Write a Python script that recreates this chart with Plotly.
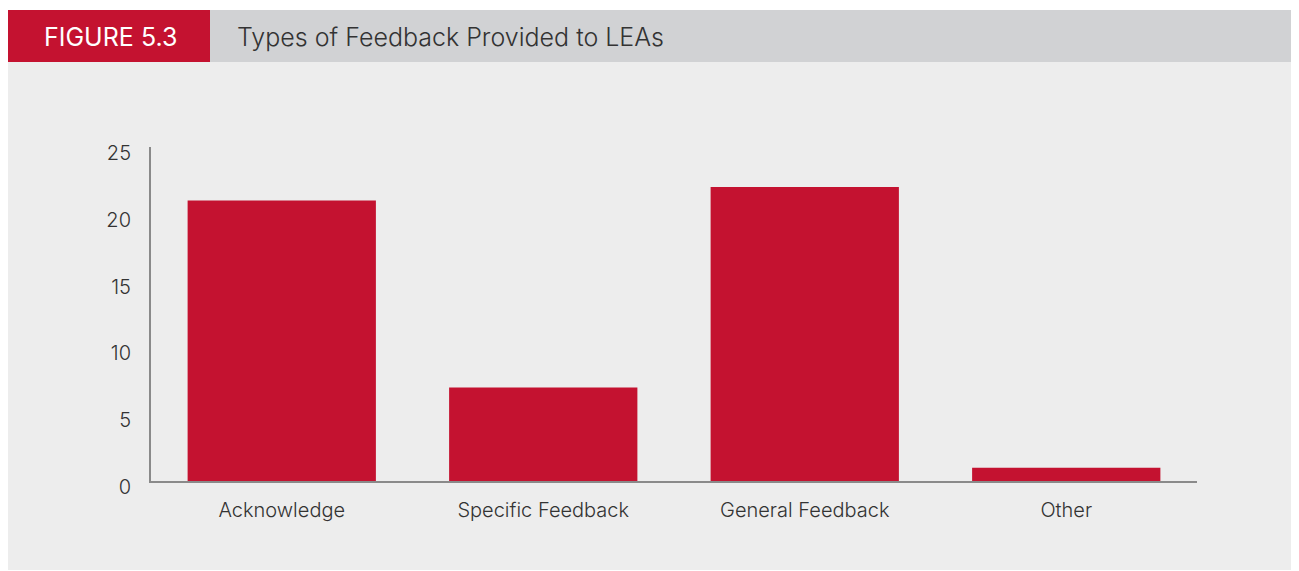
import plotly.graph_objects as go

categories = ["Acknowledge", "Specific Feedback", "General Feedback", "Other"]
values = [21, 7, 22, 1]
y_ticks = [0, 5, 10, 15, 20, 25]

W, H = 1299, 571
OFF = 8  # page body margin compensation
RED = "#c41230"
HEADER_GREY = "#d1d2d4"
PANEL = "#ededed"
AXIS = "#8a8a8a"
TEXT = "#333333"
FONT = "Inter"

fig = go.Figure()
fig.add_trace(go.Bar(
    x=categories, y=values, marker=dict(color=RED, line=dict(width=0)),
    width=0.72, hoverinfo="x+y"))

def px(x):
    return (x - OFF) / W

def py(y):
    return 1 - (y - OFF) / H

shapes = [
    dict(type="rect", xref="paper", yref="paper", x0=px(6), x1=px(1310), y0=py(570), y1=py(62),
         fillcolor=PANEL, line=dict(width=0), layer="below"),
    dict(type="rect", xref="paper", yref="paper", x0=px(6), x1=px(210), y0=py(62), y1=py(10),
         fillcolor=RED, line=dict(width=0), layer="below"),
    dict(type="rect", xref="paper", yref="paper", x0=px(210), x1=px(1310), y0=py(62), y1=py(10),
         fillcolor=HEADER_GREY, line=dict(width=0), layer="below"),
]

annotations = [
    dict(text="FIGURE 5.3", xref="paper", yref="paper", x=px(110), y=py(37),
         xanchor="center", yanchor="middle", showarrow=False,
         font=dict(family=FONT, size=25, color="white", weight=400)),
    dict(text="Types of Feedback Provided to LEAs", xref="paper", yref="paper", x=px(235), y=py(37),
         xanchor="left", yanchor="middle", showarrow=False,
         font=dict(family=FONT, size=25, color=TEXT, weight=300)),
]

fig.update_layout(
    width=W, height=H,
    margin=dict(l=0, r=0, t=0, b=0),
    paper_bgcolor="white", plot_bgcolor="rgba(0,0,0,0)",
    showlegend=False,
    shapes=shapes, annotations=annotations,
    font=dict(family=FONT, color=TEXT, weight=300),
    xaxis=dict(domain=[px(151), px(1197)], range=[-0.5, 3.5], automargin=False,
               showline=True, linecolor=AXIS, linewidth=2, showgrid=False, zeroline=False,
               ticks="", tickfont=dict(family=FONT, size=20, color=TEXT, weight=300),
               ticklabelstandoff=10, fixedrange=True),
    yaxis=dict(domain=[py(481), py(147)], range=[0, 25], automargin=False,
               showline=True, linecolor=AXIS, linewidth=2, showgrid=False, zeroline=False,
               tickvals=y_ticks, ticktext=[str(v) for v in y_ticks], ticks="",
               tickfont=dict(family=FONT, size=20, color=TEXT, weight=300),
               ticklabelstandoff=14, ticklabelshift=6, fixedrange=True),
)

fig.write_html("out.html")
